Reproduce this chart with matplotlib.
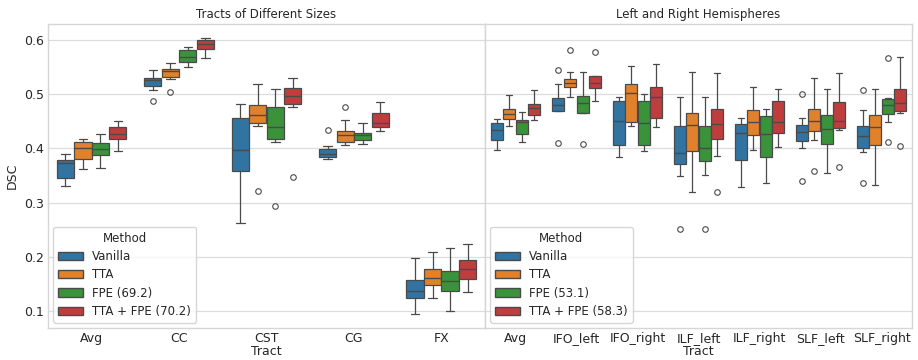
import matplotlib
matplotlib.use("Agg")
import matplotlib.pyplot as plt
from matplotlib.patches import Patch
import seaborn as sns

sns.set_theme(style="whitegrid")
plt.rcParams['font.family'] = ['DejaVu Sans']
plt.rcParams['axes.edgecolor'] = '#d6d6d6'
plt.rcParams['grid.color'] = '#dcdcdc'
plt.rcParams['axes.linewidth'] = 1.0
plt.rcParams['grid.linewidth'] = 0.9

methods = ["Vanilla", "TTA", "FPE", "TTA + FPE"]
colors = ["#3274a1", "#e1812c", "#3a923a", "#c03d3e"]

left_cats = ["Avg", "CC", "CST", "CG", "FX"]
left_legend = ["Vanilla", "TTA", "FPE (69.2)", "TTA + FPE (70.2)"]
# each row: [whislo, q1, med, q3, whishi] per method
left_vanilla = [[0.330, 0.345, 0.374, 0.379, 0.389],
                [0.508, 0.515, 0.526, 0.529, 0.545],
                [0.262, 0.358, 0.397, 0.456, 0.481],
                [0.380, 0.385, 0.389, 0.399, 0.404],
                [0.095, 0.125, 0.138, 0.158, 0.199]]
left_tta = [[0.362, 0.381, 0.400, 0.412, 0.417],
            [0.528, 0.532, 0.542, 0.547, 0.557],
            [0.442, 0.447, 0.461, 0.480, 0.519],
            [0.406, 0.412, 0.424, 0.433, 0.452],
            [0.125, 0.148, 0.161, 0.178, 0.209]]
left_fpe = [[0.364, 0.388, 0.399, 0.410, 0.426],
            [0.550, 0.559, 0.569, 0.581, 0.586],
            [0.412, 0.418, 0.439, 0.476, 0.510],
            [0.409, 0.416, 0.425, 0.428, 0.447],
            [0.101, 0.137, 0.156, 0.175, 0.216]]
left_ttafpe = [[0.395, 0.418, 0.426, 0.439, 0.450],
               [0.566, 0.583, 0.592, 0.600, 0.604],
               [0.476, 0.481, 0.496, 0.511, 0.530],
               [0.432, 0.440, 0.447, 0.466, 0.485],
               [0.136, 0.160, 0.179, 0.195, 0.225]]
left_fliers_vanilla = [[], [0.488], [], [0.434], []]
left_fliers_tta = [[], [0.503], [0.322], [0.477], []]
left_fliers_fpe = [[], [], [0.294], [], []]
left_fliers_ttafpe = [[], [], [0.348], [], []]

right_cats = ["Avg", "IFO_left", "IFO_right", "ILF_left", "ILF_right", "SLF_left", "SLF_right"]
right_legend = ["Vanilla", "TTA", "FPE (53.1)", "TTA + FPE (58.3)"]
right_vanilla = [[0.398, 0.415, 0.434, 0.447, 0.455],
                 [0.469, 0.469, 0.480, 0.493, 0.518],
                 [0.385, 0.407, 0.450, 0.488, 0.494],
                 [0.349, 0.372, 0.391, 0.441, 0.494],
                 [0.329, 0.379, 0.429, 0.445, 0.456],
                 [0.400, 0.413, 0.431, 0.444, 0.456],
                 [0.393, 0.401, 0.423, 0.442, 0.471]]
right_tta = [[0.441, 0.454, 0.464, 0.473, 0.498],
             [0.494, 0.513, 0.520, 0.528, 0.540],
             [0.442, 0.448, 0.502, 0.518, 0.552],
             [0.320, 0.396, 0.444, 0.465, 0.541],
             [0.397, 0.425, 0.448, 0.471, 0.513],
             [0.415, 0.433, 0.450, 0.473, 0.529],
             [0.333, 0.406, 0.440, 0.462, 0.509]]
right_fpe = [[0.411, 0.426, 0.448, 0.453, 0.467],
             [0.466, 0.466, 0.483, 0.496, 0.541],
             [0.396, 0.406, 0.447, 0.488, 0.500],
             [0.351, 0.377, 0.400, 0.441, 0.494],
             [0.337, 0.384, 0.426, 0.459, 0.473],
             [0.355, 0.408, 0.436, 0.461, 0.509],
             [0.448, 0.464, 0.480, 0.491, 0.493]]
right_ttafpe = [[0.452, 0.462, 0.474, 0.482, 0.507],
                [0.488, 0.511, 0.521, 0.533, 0.534],
                [0.440, 0.456, 0.494, 0.513, 0.555],
                [0.387, 0.417, 0.445, 0.473, 0.539],
                [0.403, 0.428, 0.448, 0.488, 0.510],
                [0.434, 0.437, 0.450, 0.485, 0.539],
                [0.466, 0.469, 0.483, 0.510, 0.569]]
right_fliers_vanilla = [[], [0.545, 0.410], [], [0.251], [], [0.500, 0.341], [0.507, 0.336]]
right_fliers_tta = [[], [0.582], [], [], [], [0.358], []]
right_fliers_fpe = [[], [0.409], [], [0.251], [], [], [0.567, 0.411]]
right_fliers_ttafpe = [[], [0.577], [], [0.320], [], [0.366], [0.405]]

line_c = "#4a4a4a"


def draw(ax, cats, series, fliers, legend_labels):
    n = len(methods)
    w = 0.8 / n
    for j in range(n):
        stats = []
        for i in range(len(cats)):
            lo, q1, med, q3, hi = series[j][i]
            stats.append(dict(whislo=lo, q1=q1, med=med, q3=q3, whishi=hi,
                              fliers=fliers[j][i]))
        pos = [i - 0.4 + w * (j + 0.5) for i in range(len(cats))]
        ax.bxp(stats, positions=pos, widths=w * 0.98, patch_artist=True,
               manage_ticks=False,
               boxprops=dict(facecolor=colors[j], edgecolor=line_c, linewidth=0.9),
               medianprops=dict(color=line_c, linewidth=1.0),
               whiskerprops=dict(color=line_c, linewidth=0.9),
               capprops=dict(color=line_c, linewidth=0.9),
               flierprops=dict(marker="o", markersize=4, markerfacecolor="none",
                               markeredgecolor=line_c, markeredgewidth=0.8))
    ax.set_xticks(range(len(cats)))
    ax.set_xticklabels(cats)
    ax.set_xlim(-0.5, len(cats) - 0.5)
    ax.xaxis.grid(False)
    ax.set_xlabel("Tract", fontsize=9, labelpad=0)
    handles = [Patch(facecolor=colors[j], edgecolor=line_c, label=legend_labels[j])
               for j in range(n)]
    ax.legend(handles=handles, title="Method", loc="lower left", fontsize=8.5,
              title_fontsize=8.5, frameon=True, borderaxespad=0.45,
              handlelength=2.1, handleheight=0.7, labelspacing=0.45,
              borderpad=0.4)
    ax.tick_params(axis="both", labelsize=9, pad=3, length=0)


fig = plt.figure(figsize=(9.18, 3.6), dpi=100)
ax1 = fig.add_axes([0.0523, 0.0889, 0.4760, 0.8444])
ax2 = fig.add_axes([0.5283, 0.0889, 0.4652, 0.8444], sharey=ax1)

draw(ax1, left_cats, [left_vanilla, left_tta, left_fpe, left_ttafpe],
     [left_fliers_vanilla, left_fliers_tta, left_fliers_fpe, left_fliers_ttafpe], left_legend)
draw(ax2, right_cats, [right_vanilla, right_tta, right_fpe, right_ttafpe],
     [right_fliers_vanilla, right_fliers_tta, right_fliers_fpe, right_fliers_ttafpe], right_legend)

ax1.set_ylim(0.0696, 0.629)
ax1.set_yticks([0.1, 0.2, 0.3, 0.4, 0.5, 0.6])
ax1.set_ylabel("DSC", fontsize=9, labelpad=4)
ax2.tick_params(axis="y", labelleft=False, length=0)
ax1.set_title("Tracts of Different Sizes", fontsize=8.5, pad=4)
ax2.set_title("Left and Right Hemispheres", fontsize=8.5, pad=4)

fig.savefig("out.png", dpi=100)
